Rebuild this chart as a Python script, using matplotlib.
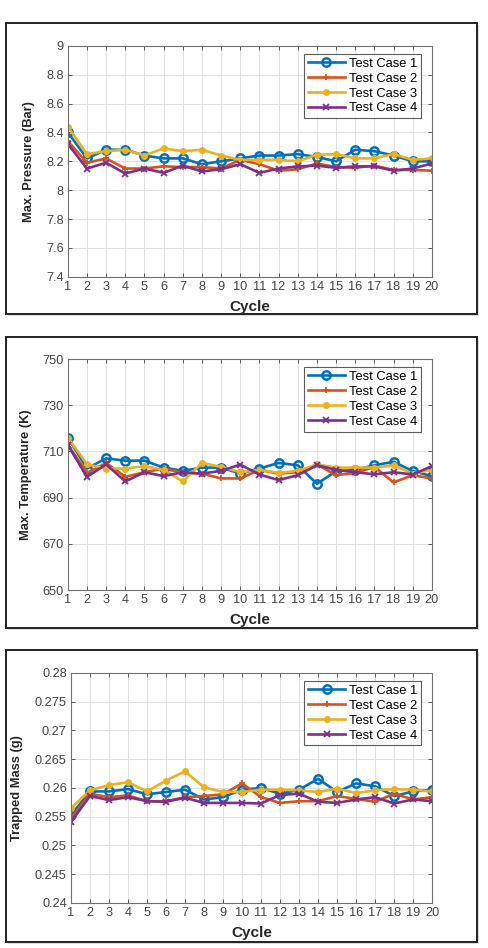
import numpy as np
import matplotlib.pyplot as plt
from matplotlib.patches import Rectangle

plt.rcParams['font.family'] = ['Liberation Sans', 'DejaVu Sans']

cycles = np.arange(1, 21)
case_names = ['Test Case 1', 'Test Case 2', 'Test Case 3', 'Test Case 4']

# Max. pressure (Bar)
pressure_1 = [8.40, 8.22, 8.28, 8.28, 8.24, 8.22, 8.22, 8.18, 8.20, 8.22,
              8.24, 8.24, 8.25, 8.23, 8.20, 8.28, 8.27, 8.24, 8.20, 8.20]
pressure_2 = [8.34, 8.19, 8.22, 8.15, 8.15, 8.165, 8.16, 8.16, 8.15, 8.21,
              8.18, 8.135, 8.145, 8.185, 8.16, 8.155, 8.17, 8.14, 8.14, 8.135]
pressure_3 = [8.44, 8.25, 8.27, 8.28, 8.24, 8.29, 8.27, 8.28, 8.24, 8.21,
              8.21, 8.21, 8.20, 8.245, 8.25, 8.22, 8.22, 8.25, 8.21, 8.22]
pressure_4 = [8.32, 8.15, 8.19, 8.115, 8.15, 8.12, 8.17, 8.13, 8.145, 8.18,
              8.12, 8.15, 8.165, 8.17, 8.155, 8.165, 8.165, 8.135, 8.15, 8.185]

# Max. temperature (K)
temp_1 = [716, 702.6, 707, 706, 706, 703, 701.6, 703, 703, 700.4,
          702.6, 705, 704, 696, 701.4, 702, 704, 705.5, 701.5, 699.3]
temp_2 = [713, 700.7, 705, 699, 701, 702.6, 700.7, 700.4, 698.3, 698.3,
          702, 700.4, 701, 704.4, 699.7, 700.7, 703.3, 696.6, 699.7, 698.3]
temp_3 = [716, 704.4, 702.6, 702.6, 703.6, 702, 697, 705, 703.3, 701,
          702, 700.7, 701.6, 704.4, 703, 703, 703, 704, 700.4, 702]
temp_4 = [712.7, 699, 704.4, 697, 701, 699.3, 701, 700.4, 701.6, 704.3,
          700, 697.6, 699.7, 704, 702, 701, 700.1, 701, 700, 703.6]

# Trapped mass (g)
mass_1 = [0.2553, 0.2594, 0.2594, 0.2598, 0.2589, 0.2593, 0.2597, 0.2580, 0.2584, 0.2597,
          0.2600, 0.2590, 0.2597, 0.2616, 0.2593, 0.2608, 0.2603, 0.2586, 0.2594, 0.2597]
mass_2 = [0.2547, 0.2590, 0.2584, 0.2587, 0.2577, 0.2577, 0.2584, 0.2586, 0.2589, 0.2608,
          0.2584, 0.2574, 0.2577, 0.2577, 0.2586, 0.2581, 0.2576, 0.2590, 0.2580, 0.2584]
mass_3 = [0.2565, 0.2596, 0.2605, 0.2610, 0.2594, 0.2613, 0.2629, 0.2601, 0.2593, 0.2593,
          0.2597, 0.2597, 0.2596, 0.2593, 0.2599, 0.2591, 0.2596, 0.2598, 0.2597, 0.2594]
mass_4 = [0.2541, 0.2586, 0.2579, 0.2584, 0.2577, 0.2576, 0.2583, 0.2574, 0.2574, 0.2574,
          0.2573, 0.2588, 0.2590, 0.2576, 0.2574, 0.2580, 0.2584, 0.2573, 0.2580, 0.2577]

colors = ['#0072BD', '#D95319', '#EDB120', '#7E2F8E']
markers = ['o', '+', '.', 'x']

panels = [
    ([pressure_1, pressure_2, pressure_3, pressure_4], 'Max. Pressure (Bar)',
     (7.4, 9.0), np.arange(7.4, 9.01, 0.2), ['7.4', '7.6', '7.8', '8', '8.2', '8.4', '8.6', '8.8', '9']),
    ([temp_1, temp_2, temp_3, temp_4], 'Max. Temperature (K)',
     (650, 750), np.arange(650, 751, 20), None),
    ([mass_1, mass_2, mass_3, mass_4], 'Trapped Mass (g)',
     (0.24, 0.28), np.arange(0.24, 0.2801, 0.005), ['0.24', '0.245', '0.25', '0.255', '0.26', '0.265', '0.27', '0.275', '0.28']),
]

# axes rectangles and surrounding frames (figure fractions)
axes_pos = [[0.139, 0.708, 0.746, 0.2437],
            [0.139, 0.3776, 0.746, 0.2437],
            [0.1455, 0.0475, 0.740, 0.2426]]
frame_pos = [[0.0123, 0.6688, 0.965, 0.307],
             [0.0123, 0.3376, 0.965, 0.307],
             [0.0123, 0.0063, 0.965, 0.308]]
ylabel_x = [-0.091, -0.099, -0.133]

fig = plt.figure(figsize=(4.88, 9.48), dpi=100)
fig.patch.set_facecolor('white')

for i, (series, ylabel, ylim, yticks, yticklabels) in enumerate(panels):
    fx, fy, fw, fh = frame_pos[i]
    fig.patches.append(Rectangle((fx + 0.004, fy - 0.002), fw, fh, transform=fig.transFigure,
                                 facecolor='#dcdcdc', edgecolor='none', zorder=-3))
    fig.patches.append(Rectangle((fx, fy), fw, fh, transform=fig.transFigure,
                                 facecolor='white', edgecolor='#222222', linewidth=1.4, zorder=-2))

    ax = fig.add_axes(axes_pos[i])
    ax.set_zorder(2)
    for vals, name, c, m in zip(series, case_names, colors, markers):
        if m == 'o':
            ax.plot(cycles, vals, color=c, marker='o', markersize=6, markerfacecolor='none',
                    markeredgewidth=1.8, linewidth=1.9, label=name)
        elif m == '.':
            ax.plot(cycles, vals, color=c, marker='o', markersize=4, linewidth=1.9, label=name)
        else:
            ax.plot(cycles, vals, color=c, marker=m, markersize=4.5, markeredgewidth=1.3,
                    linewidth=1.9, label=name)

    ax.set_xlim(1, 20)
    ax.set_ylim(*ylim)
    ax.set_xticks(cycles)
    ax.set_yticks(yticks)
    if yticklabels:
        ax.set_yticklabels(yticklabels)
    ax.grid(True, color='#e0e0e0', linewidth=0.7)
    ax.set_axisbelow(True)
    ax.tick_params(direction='in', top=True, right=True, length=3, width=0.6,
                   labelsize=9.2, colors='#444444', pad=3)
    for s in ax.spines.values():
        s.set_color('#707070')
        s.set_linewidth(0.8)

    ax.set_xlabel('Cycle', fontsize=11, fontweight='bold', color='#262626')
    ax.xaxis.set_label_coords(0.5, -0.10)
    ax.set_ylabel(ylabel, fontsize=9.3, fontweight='bold', color='#262626')
    ax.yaxis.set_label_coords(ylabel_x[i], 0.5)

    leg = ax.legend(loc='upper right', bbox_to_anchor=(0.97, 0.965), fontsize=9.3,
                    frameon=True, fancybox=False, handlelength=2.9, borderpad=0.3,
                    labelspacing=0.22, handletextpad=0.3, borderaxespad=0.0)
    leg.get_frame().set_edgecolor('#333333')
    leg.get_frame().set_linewidth(0.8)

fig.savefig('out.png', dpi=100)
